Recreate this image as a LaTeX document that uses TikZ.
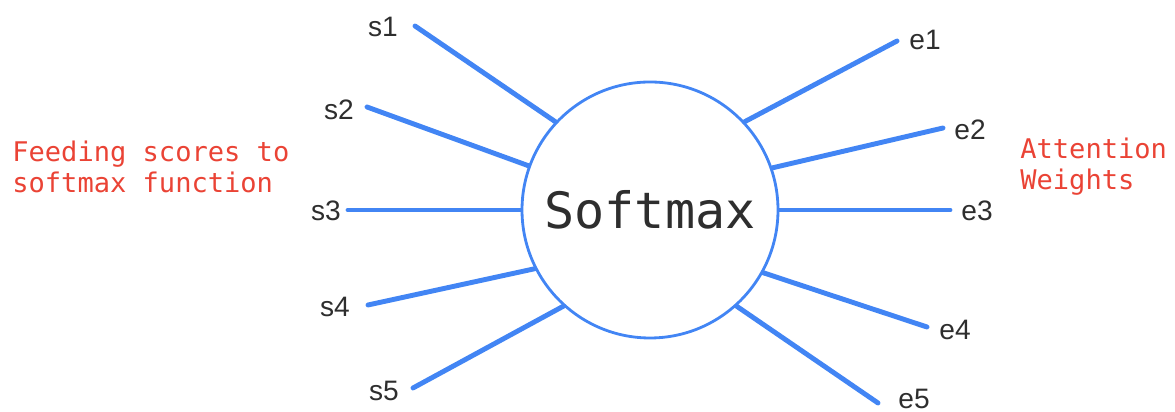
\documentclass[tikz,border=0pt]{standalone}
\usepackage{fontspec}
\setsansfont{Liberation Sans}
\setmonofont{DejaVu Sans Mono}
\usetikzlibrary{positioning}
\definecolor{azul}{HTML}{4285F4}
\definecolor{rojo}{HTML}{EA4335}
\definecolor{tinta}{HTML}{2E2E2E}
\tikzset{
  nucleo/.style={circle, draw=azul, line width=1.6pt, minimum size=5.12cm, inner sep=0pt,
                 font=\fontsize{28.5}{30}\selectfont\ttfamily, text=tinta},
  etiq/.style={font=\fontsize{16}{18}\selectfont\sffamily, text=tinta, inner sep=0pt},
  nota/.style={font=\fontsize{15.4}{17.6}\selectfont\ttfamily, text=rojo, align=left, inner sep=0pt},
  rayo/.style={line width=2.8pt, color=azul, line cap=round}
}
\begin{document}
\begin{tikzpicture}
  \useasboundingbox (0,0) rectangle (23.5,8.24);
  \node (sm) [nucleo] at (13.0,4.04) {Softmax};
  \coordinate (s1) at (8.30,7.72);
  \coordinate (s2) at (7.34,6.10);
  \coordinate (s3) at (6.96,4.04);
  \coordinate (s4) at (7.36,2.14);
  \coordinate (s5) at (8.26,0.48);
  \coordinate (e1) at (17.94,7.42);
  \coordinate (e2) at (18.86,5.68);
  \coordinate (e3) at (19.00,4.04);
  \coordinate (e4) at (18.54,1.70);
  \coordinate (e5) at (17.56,0.18);
  \node (ls1) [etiq] at (7.66,7.70) {s1};
  \node (ls2) [etiq] at (6.78,6.04) {s2};
  \node (ls3) [etiq] at (6.52,4.02) {s3};
  \node (ls4) [etiq] at (6.70,2.10) {s4};
  \node (ls5) [etiq] at (7.68,0.42) {s5};
  \node (le1) [etiq] at (18.50,7.44) {e1};
  \node (le2) [etiq] at (19.40,5.64) {e2};
  \node (le3) [etiq] at (19.54,4.02) {e3};
  \node (le4) [etiq] at (19.10,1.64) {e4};
  \node (le5) [etiq] at (18.28,0.26) {e5};
  \draw [rayo] (s1) -- (sm.137.8); \draw [rayo] (s2) -- (sm.160.2);
  \draw [rayo] (s3) -- (sm.180);   \draw [rayo] (s4) -- (sm.207.1);
  \draw [rayo] (s5) -- (sm.228.7);
  \draw [rayo] (e1) -- (sm.43.8);  \draw [rayo] (e2) -- (sm.19.7);
  \draw [rayo] (e3) -- (sm.0);     \draw [rayo] (e4) -- (sm.331.6);
  \draw [rayo] (e5) -- (sm.312.6);
  \node (entrada) [nota, anchor=west] at (0.24,4.9) {Feeding scores to\\softmax function};
  \node (salida) [nota, anchor=west] at (20.4,4.9) {Attention\\Weights};
\end{tikzpicture}
\end{document}
